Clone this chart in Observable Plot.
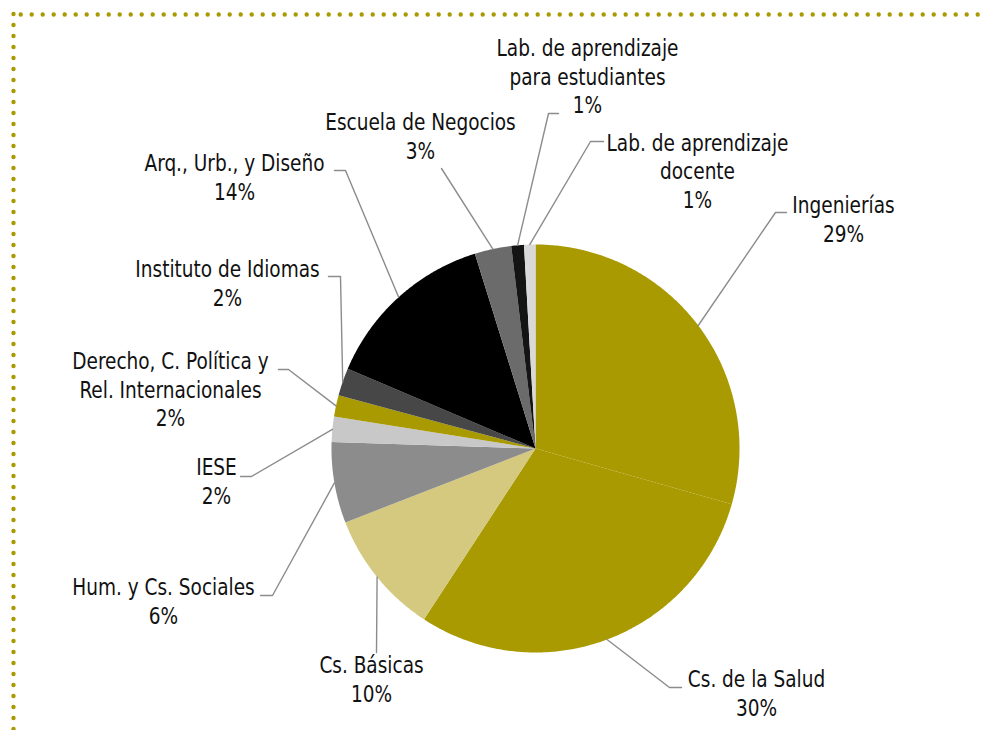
<!DOCTYPE html>
<html><head><meta charset="utf-8">
<script src="https://cdn.jsdelivr.net/npm/d3@7"></script>
<script src="https://cdn.jsdelivr.net/npm/@observablehq/plot@0.6"></script>
<style>
html,body{margin:0;padding:0;background:#fff;}
#chart svg{display:block;}
</style></head><body><div id="chart"></div>
<script>
// ---- data (clockwise from 12 o'clock) ----
const categories = ["Ingenierías","Cs. de la Salud","Cs. Básicas","Hum. y Cs. Sociales","IESE","Derecho, C. Política y\nRel. Internacionales","Instituto de Idiomas","Arq., Urb., y Diseño","Escuela de Negocios","Lab. de aprendizaje\npara estudiantes","Lab. de aprendizaje\ndocente"];
const values = [29.4,29.8,9.9,6.4,2.0,1.7,2.2,13.8,2.9,1.0,0.9];
const colors = ["#a89a00","#a89a00","#d4c97e","#8c8c8c","#c8c8c8","#a89a00","#474747","#000000","#6b6b6b","#141414","#d9d9d9"];
// ---- layout (label placement) ----
const labelX = [843,756,371,163,216,170,227,234,420,587,697];
const labelY = [218,692,678,600,480,388,282,176,135,75,169.5];
const elbowX = [775,669,376,272,251,288,340,345,441,548,590];
const elbowY = [212,687,652,595,476,369,276,170,168,113,141];
const endX   = [786,681,376,260,240,278,328,334,441,558,603];

const W = 987, H = 730, cx = 535, cy = 448, R = 204;
const arcs = d3.pie().sort(null).value(d => d)(values);
const slicePts = [];
const leaderPts = [];
arcs.forEach((a, i) => {
  slicePts.push({k: i, x: cx, y: cy});
  const n = Math.max(2, Math.ceil((a.endAngle - a.startAngle) / (Math.PI / 360)));
  for (let j = 0; j <= n; j++) {
    const t = a.startAngle + (a.endAngle - a.startAngle) * j / n;
    slicePts.push({k: i, x: cx + R * Math.sin(t), y: cy - R * Math.cos(t)});
  }
  const m = (a.startAngle + a.endAngle) / 2;
  leaderPts.push({k: i, x: cx + R * Math.sin(m), y: cy - R * Math.cos(m)});
  leaderPts.push({k: i, x: elbowX[i], y: elbowY[i]});
  leaderPts.push({k: i, x: endX[i], y: elbowY[i]});
});

const gold = "#a89a00";
const chart = Plot.plot({
  width: W, height: H,
  margin: 0,
  x: {domain: [0, W], range: [0, W], axis: null},
  y: {domain: [0, H], range: [0, H], axis: null},
  style: {fontFamily: "'DejaVu Sans Condensed', 'DejaVu Sans', sans-serif", background: "#fff", overflow: "visible"},
  marks: [
    Plot.ruleY([14], {x1: 20.7, x2: W, stroke: gold, strokeWidth: 4.4, strokeDasharray: "0 11", strokeLinecap: "round"}),
    Plot.ruleX([13], {y1: 14, y2: H, stroke: gold, strokeWidth: 4.4, strokeDasharray: "0 11", strokeLinecap: "round"}),
    Plot.line(slicePts, {x: "x", y: "y", z: "k", fill: d => colors[d.k], stroke: "none", curve: "linear-closed"}),
    Plot.line(leaderPts, {x: "x", y: "y", z: "k", stroke: "#8c8c8c", strokeWidth: 1.4}),
    Plot.text(categories, {
      x: (d, i) => labelX[i], y: (d, i) => labelY[i],
      text: (d, i) => d + "\n" + Math.round(values[i]) + "%",
      lineAnchor: "middle", lineHeight: 1.22, fontSize: 23.5, fill: "#111",
      fontStretch: "condensed"
    })
  ]
});
// condense the label glyphs horizontally to mimic the narrow typeface
chart.querySelectorAll("text").forEach(t => {
  const tr = t.getAttribute("transform") || "";
  t.setAttribute("transform", tr + " scale(0.875,1)");
});
document.getElementById("chart").append(chart);
</script></body></html>
